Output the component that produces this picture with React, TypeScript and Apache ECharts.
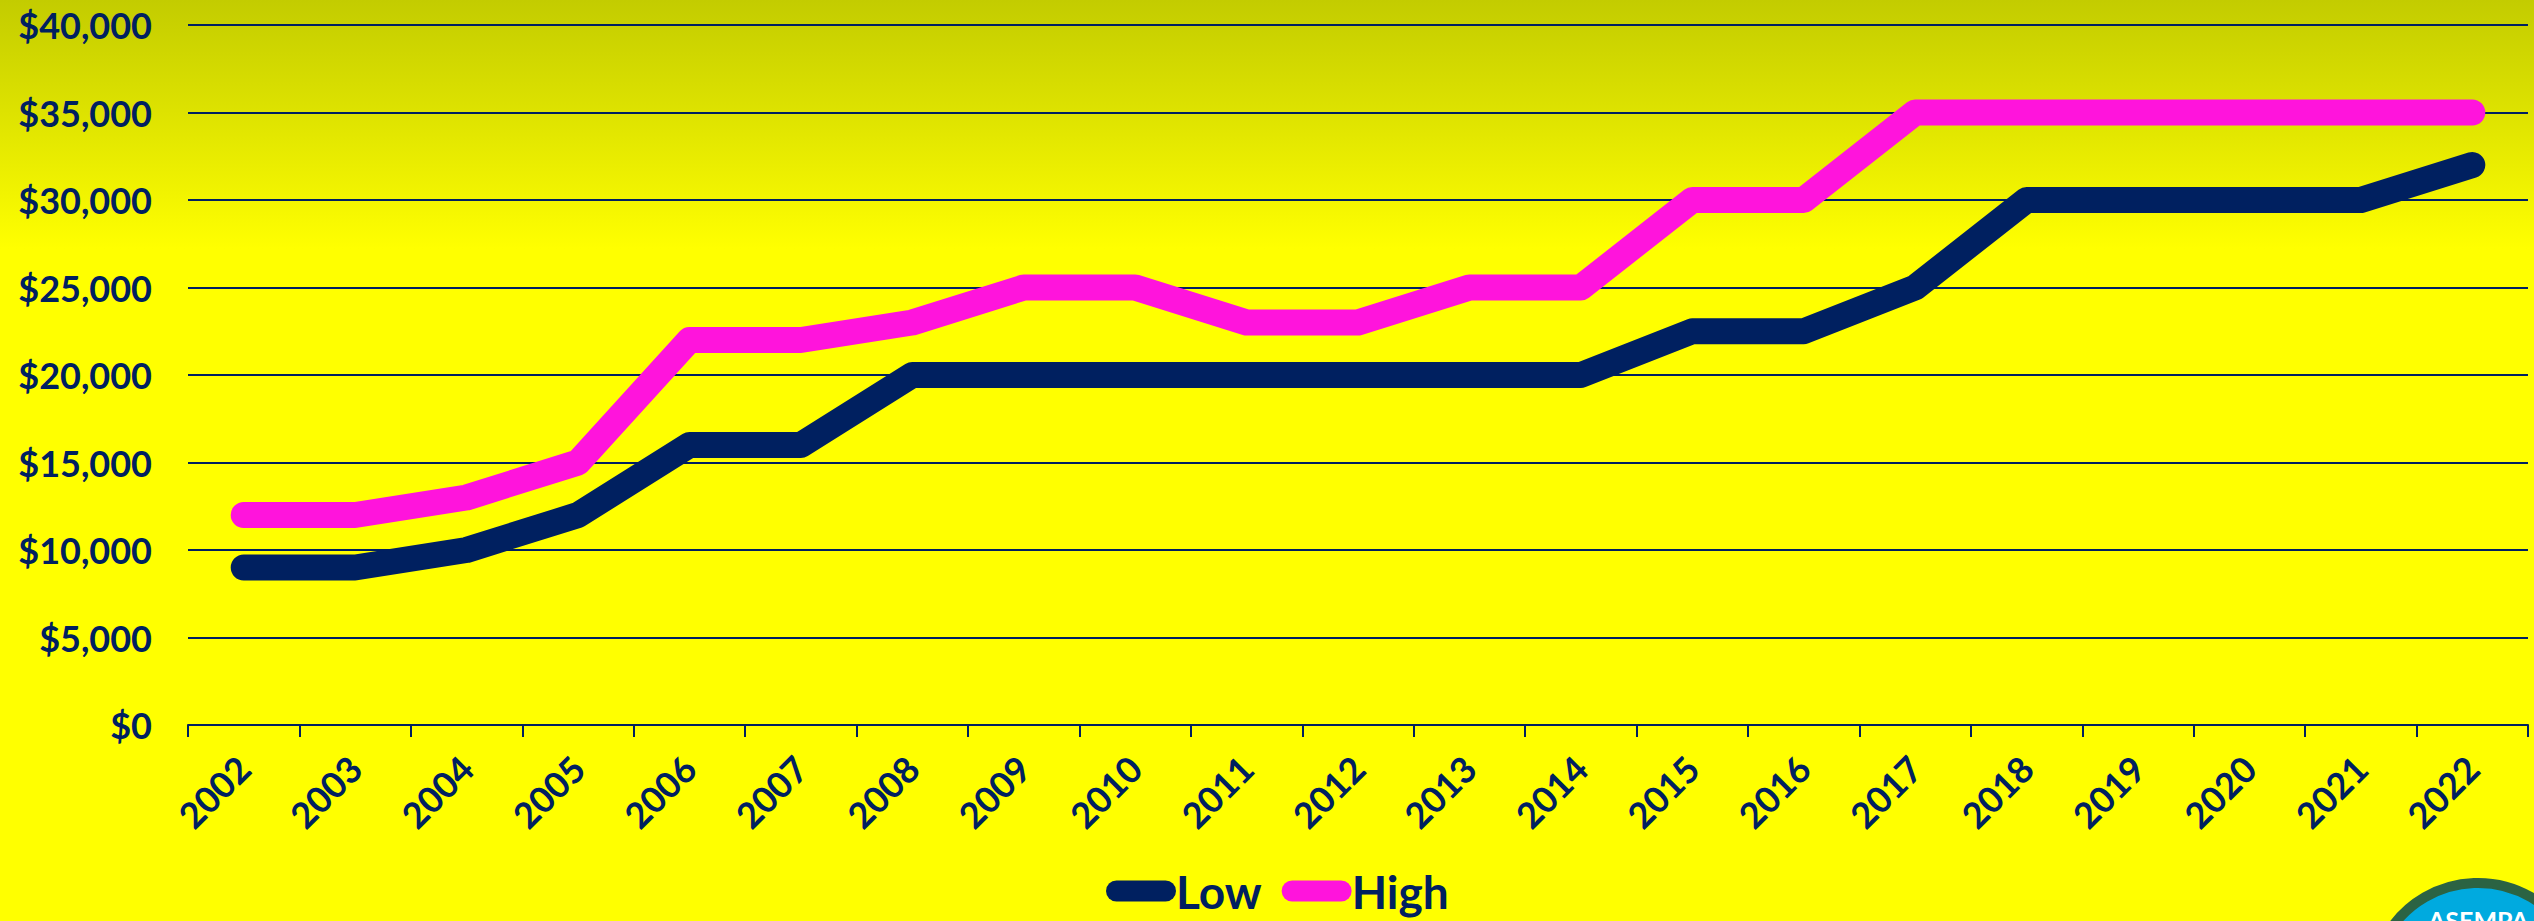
import React, { useEffect, useRef } from "react";
import * as echarts from "echarts";

const years = ["2002","2003","2004","2005","2006","2007","2008","2009","2010","2011","2012","2013","2014","2015","2016","2017","2018","2019","2020","2021","2022"];
const lowValues = [9000,9000,10000,12000,16000,16000,20000,20000,20000,20000,20000,20000,20000,22500,22500,25000,30000,30000,30000,30000,32000];
const highValues = [12000,12000,13000,15000,22000,22000,23000,25000,25000,23000,23000,25000,25000,30000,30000,35000,35000,35000,35000,35000,35000];
const seriesNames = ["Low", "High"];
const yTicks = { min: 0, max: 40000, interval: 5000 };

const NAVY = "#002060";
const PINK = "#ff14dc";
const FONT = "Lato, 'Open Sans', sans-serif";

export default function App() {
  const ref = useRef<HTMLDivElement>(null);
  useEffect(() => {
    if (!ref.current) return;
    const chart = echarts.init(ref.current, null, { renderer: "svg" });
    const stadium = "path://M10.5,0 L59.5,0 A10.5,10.5 0 0 1 59.5,21 L10.5,21 A10.5,10.5 0 0 1 10.5,0 Z";
    chart.setOption({
      animation: false,
      backgroundColor: {
        type: "linear", x: 0, y: 0, x2: 0, y2: 1,
        colorStops: [
          { offset: 0, color: "#c3cc00" },
          { offset: 0.12, color: "#dde200" },
          { offset: 0.27, color: "#ffff00" },
          { offset: 1, color: "#ffff00" },
        ],
      },
      grid: { left: 188, right: 6, top: 25, bottom: 196, containLabel: false },
      legend: {
        data: seriesNames,
        left: 1101,
        top: 861,
        icon: stadium,
        itemWidth: 70,
        itemHeight: 21,
        itemGap: 20,
        textStyle: { color: NAVY, fontSize: 46, fontWeight: "bold", fontFamily: FONT, lineHeight: 50, padding: [0, 0, 0, -5] },
      },
      xAxis: {
        type: "category",
        data: years,
        boundaryGap: true,
        axisLine: { show: true, lineStyle: { color: NAVY, width: 2 } },
        axisTick: { show: true, length: 12, lineStyle: { color: NAVY, width: 2 } },
        axisLabel: { rotate: 45, margin: 37, color: NAVY, fontSize: 36, fontWeight: "bold", fontFamily: FONT, interval: 0 },
        splitLine: { show: false },
      },
      yAxis: {
        type: "value",
        min: yTicks.min,
        max: yTicks.max,
        interval: yTicks.interval,
        axisLine: { show: false },
        axisTick: { show: false },
        axisLabel: {
          margin: 36,
          color: NAVY,
          fontSize: 36,
          fontWeight: "bold",
          fontFamily: FONT,
          formatter: (v: number) => "$" + v.toLocaleString("en-US"),
        },
        splitLine: { show: true, lineStyle: { color: NAVY, width: 2 } },
      },
      series: [
        {
          name: seriesNames[0], type: "line", data: lowValues, symbol: "none",
          color: NAVY,
          lineStyle: { color: NAVY, width: 26, cap: "round", join: "round" },
        },
        {
          name: seriesNames[1], type: "line", data: highValues, symbol: "none",
          color: PINK,
          lineStyle: { color: PINK, width: 26, cap: "round", join: "round" },
        },
      ],
      graphic: [
        {
          type: "circle", shape: { cx: 2478, cy: 989, r: 106 },
          style: { fill: "#00aadf", stroke: "#2b6343", lineWidth: 10 },
          z: 100,
        },
        {
          type: "text", x: 2428, y: 907,
          style: { text: "ASEMPA", fill: "#ffffff", font: "bold 25px Lato, sans-serif", textVerticalAlign: "top" },
          z: 101,
        },
      ],
    });
    return () => chart.dispose();
  }, []);
  return <div ref={ref} style={{ position: "fixed", left: 0, top: 0, width: 2534, height: 921 }} />;
}
